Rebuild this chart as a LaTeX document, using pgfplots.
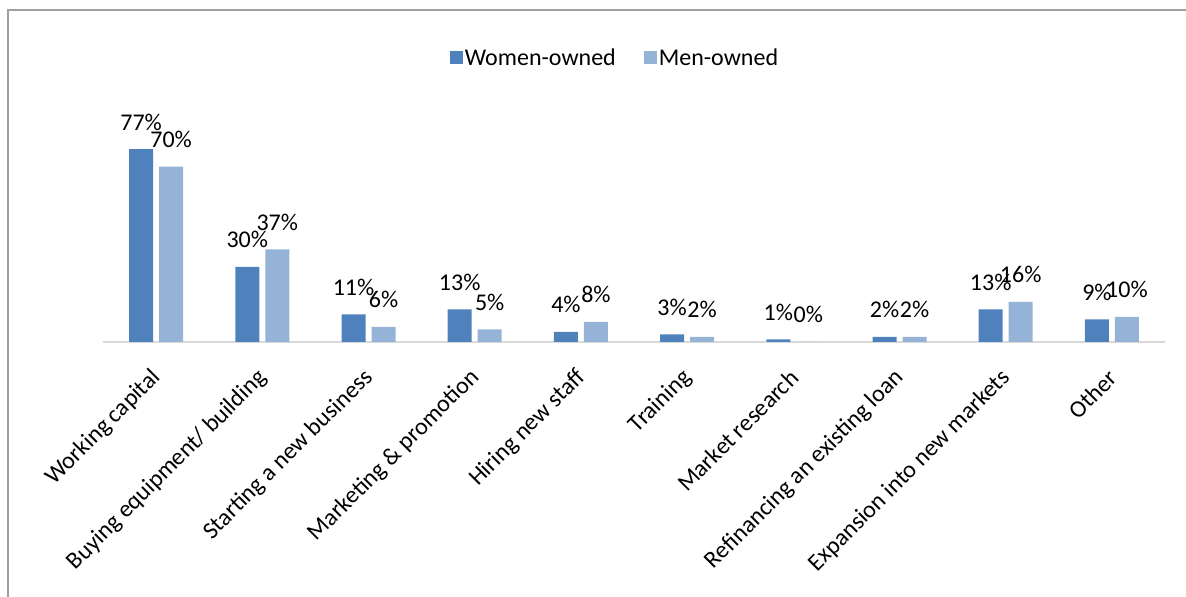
\documentclass[border=0pt]{standalone}
\usepackage{pgfplots}
\pgfplotsset{compat=1.18}
\usepackage{fontspec}
\setmainfont{Carlito}
\definecolor{women}{HTML}{4F81BD}
\definecolor{men}{HTML}{95B3D7}
\definecolor{framegray}{HTML}{A0A0A0}
\definecolor{axisgray}{HTML}{D9D9D9}
\newcommand{\cf}{\fontsize{24pt}{28pt}\selectfont}
\begin{document}
\begin{tikzpicture}
\begin{axis}[
  at={(103pt,255pt)}, anchor=south west,
  scale only axis, width=1062pt, height=200.5pt,
  xmin=-0.5, xmax=9.5, ymin=0, ymax=80,
  clip=false,
  ybar=6pt, bar width=24pt,
  axis x line*=bottom, axis y line=none,
  x axis line style={axisgray, line width=1.5pt, -},
  xtick=data, major tick length=0pt, xtick style={draw=none},
  xticklabels={Working capital, Buying equipment/ building, Starting a new business, Marketing \& promotion, Hiring new staff, Training, Market research, Refinancing an existing loan, Expansion into new markets, Other},
  xticklabel style={anchor=east, yshift=-32pt, xshift=1pt, rotate=45, font=\cf, inner sep=0pt},
  /pgf/number format/assume math mode=true,
  nodes near coords={\pgfmathprintnumber{\pgfplotspointmeta}\%},
  every node near coord/.append style={anchor=base, yshift=19pt, font=\cf, inner sep=0pt, black},
  legend columns=2,
  legend style={at={(0.4821,1.4165)}, anchor=center, draw=none, font=\cf, fill=none,
    /tikz/every even column/.append style={column sep=26pt}},
  legend image code/.code={\fill[#1] (-2pt,-5.5pt) rectangle (11pt,7.5pt);},
]
\addplot[fill=women, draw=none] coordinates {(0,77) (1,30) (2,11) (3,13) (4,4) (5,3) (6,1) (7,2) (8,13) (9,9)};
\addplot[fill=men, draw=none] coordinates {(0,70) (1,37) (2,6) (3,5) (4,8) (5,2) (6,0) (7,2) (8,16) (9,10)};
\legend{Women-owned, Men-owned}
\end{axis}
\pgfresetboundingbox
\useasboundingbox (0,0) rectangle (1186pt,597pt);
\draw[framegray, line width=1.5pt] (8pt,0) -- (8pt,587pt) -- (1186pt,587pt);
\end{tikzpicture}
\end{document}
